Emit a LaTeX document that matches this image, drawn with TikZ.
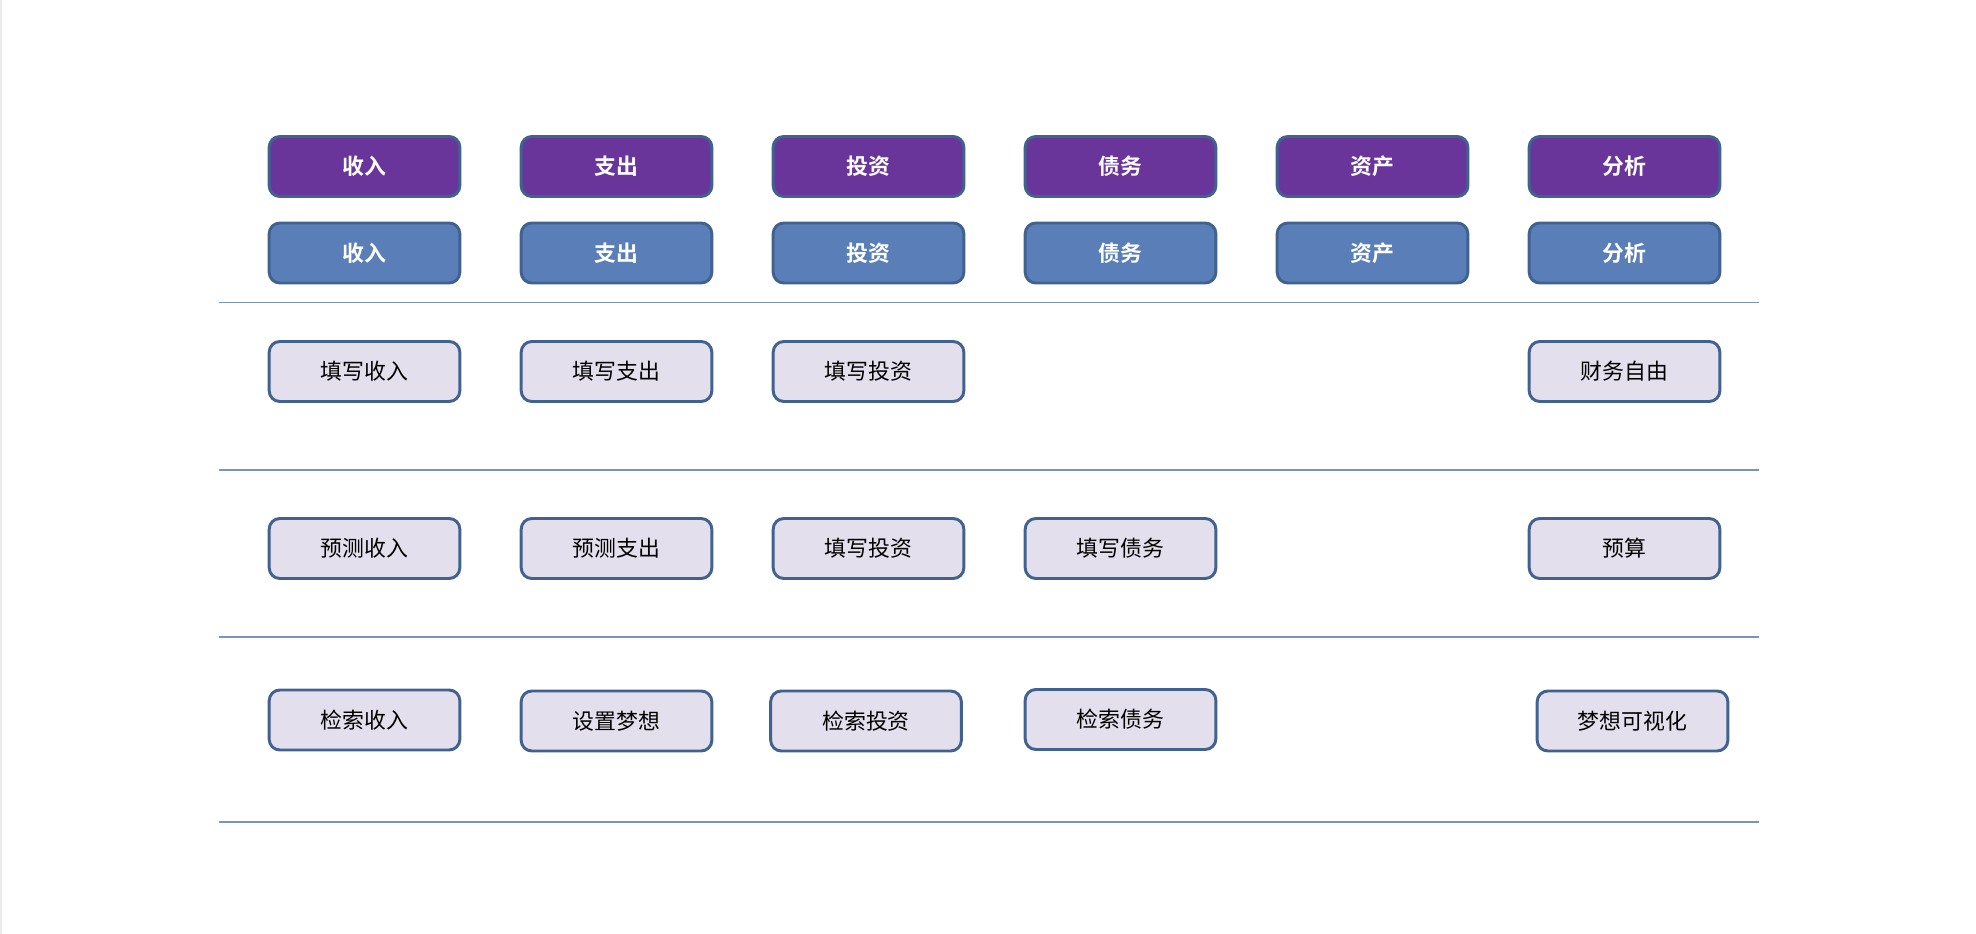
\documentclass[tikz,border=0pt]{standalone}
\usepackage{fontspec}
\newfontfamily\cjk{Noto Sans CJK SC}[BoldFont={Noto Sans CJK SC Bold}]
\definecolor{purplefill}{HTML}{6A359B}
\definecolor{bluefill}{HTML}{5A7FB8}
\definecolor{lightfill}{HTML}{E4DFEC}
\definecolor{edgeblue}{HTML}{41618F}
\definecolor{ruleblue}{HTML}{7B93BF}
\begin{document}
\begin{tikzpicture}[x=0.75pt,y=-0.75pt,
  box/.style={draw=edgeblue,line width=2.2pt,rounded corners=8pt,minimum width=143pt,minimum height=45pt,inner sep=0pt,font=\cjk\fontsize{16.4}{18}\selectfont},
  topbox/.style={box,fill=purplefill,text=white,font=\cjk\bfseries\fontsize{16.4}{18}\selectfont},
  catbox/.style={box,fill=bluefill,text=white,font=\cjk\bfseries\fontsize{16.4}{18}\selectfont},
  itembox/.style={box,fill=lightfill,text=black},
  rule/.style={draw=ruleblue,line width=1.1pt}]
\useasboundingbox (0,0) rectangle (1976,934);
\fill[black!8] (0,0) rectangle (2,934);
% top row
\node[topbox] (p1) at (364.5,166.5) {收入};
\node[topbox] (p2) at (616.5,166.5) {支出};
\node[topbox] (p3) at (868.5,166.5) {投资};
\node[topbox] (p4) at (1120.5,166.5) {债务};
\node[topbox] (p5) at (1372.5,166.5) {资产};
\node[topbox] (p6) at (1624.5,166.5) {分析};
% second row
\node[catbox] (b1) at (364.5,253) {收入};
\node[catbox] (b2) at (616.5,253) {支出};
\node[catbox] (b3) at (868.5,253) {投资};
\node[catbox] (b4) at (1120.5,253) {债务};
\node[catbox] (b5) at (1372.5,253) {资产};
\node[catbox] (b6) at (1624.5,253) {分析};
% rules
\coordinate (l1a) at (219,302.5); \coordinate (l1b) at (1759,302.5);
\coordinate (l2a) at (219,470); \coordinate (l2b) at (1759,470);
\coordinate (l3a) at (219,637); \coordinate (l3b) at (1759,637);
\coordinate (l4a) at (219,822); \coordinate (l4b) at (1759,822);
\draw[rule] (l1a) -- (l1b);
\draw[rule] (l2a) -- (l2b);
\draw[rule] (l3a) -- (l3b);
\draw[rule] (l4a) -- (l4b);
% row 2
\node[itembox] (r21) at (364.5,371.5) {填写收入};
\node[itembox] (r22) at (616.5,371.5) {填写支出};
\node[itembox] (r23) at (868.5,371.5) {填写投资};
\node[itembox] (r26) at (1624.5,371.5) {财务自由};
% row 3
\node[itembox] (r31) at (364.5,548.5) {预测收入};
\node[itembox] (r32) at (616.5,548.5) {预测支出};
\node[itembox] (r33) at (868.5,548.5) {填写投资};
\node[itembox] (r34) at (1120.5,548.5) {填写债务};
\node[itembox] (r36) at (1624.5,548.5) {预算};
% row 4
\node[itembox] (r41) at (364.5,720) {检索收入};
\node[itembox] (r42) at (616.5,721) {设置梦想};
\node[itembox] (r43) at (866,721) {检索投资};
\node[itembox] (r44) at (1120.5,719.5) {检索债务};
\node[itembox] (r46) at (1632.5,721) {梦想可视化};
\end{tikzpicture}
\end{document}
